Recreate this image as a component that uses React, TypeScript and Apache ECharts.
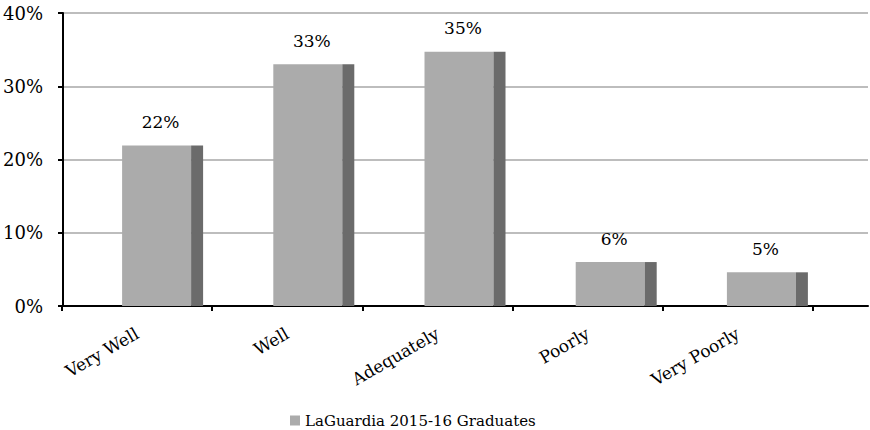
import React, { useEffect, useRef } from "react";
import * as echarts from "echarts";

const categories = ["Very Well", "Well", "Adequately", "Poorly", "Very Poorly"];
const values = [0.219, 0.33, 0.347, 0.06, 0.046];
const seriesName = "LaGuardia 2015-16 Graduates";
const yTicks = [0, 0.1, 0.2, 0.3, 0.4];

const FONT = "DejaVu Serif";

export default function App() {
  const ref = useRef<HTMLDivElement>(null);
  useEffect(() => {
    if (!ref.current) return;
    const chart = echarts.init(ref.current, undefined, { renderer: "svg" });
    const yMin = yTicks[0];
    const yMax = yTicks[yTicks.length - 1];
    const hiddenY = (gridIndex: number) => ({
      type: "value" as const,
      gridIndex,
      min: yMin,
      max: yMax,
      interval: 0.1,
      show: false,
      splitLine: { show: false },
    });
    chart.setOption({
      animation: false,
      backgroundColor: "#ffffff",
      textStyle: { fontFamily: FONT },
      legend: {
        data: [seriesName],
        left: 285,
        top: 408,
        icon: "rect",
        itemWidth: 10,
        itemHeight: 10,
        itemGap: 4,
        textStyle: { fontFamily: FONT, fontSize: 15, color: "#000" },
      },
      grid: [
        { left: 62, right: 2, top: 13, bottom: 124 },
        { left: 62, width: 751, top: 13, bottom: 124 },
        { left: 87, width: 756, top: 13, bottom: 124 },
      ],
      xAxis: [
        {
          type: "value",
          gridIndex: 0,
          min: 0,
          max: 1,
          axisLine: { show: true, lineStyle: { color: "#000", width: 2 } },
          axisTick: { show: false },
          axisLabel: { show: false },
          splitLine: { show: false },
        },
        {
          type: "category",
          gridIndex: 1,
          data: categories,
          axisLine: { show: false },
          axisTick: { show: true, length: 5, lineStyle: { color: "#000", width: 2 } },
          axisLabel: {
            rotate: 30,
            margin: 26,
            fontFamily: FONT,
            fontSize: 17,
            color: "#000",
            interval: 0,
          },
        },
        {
          type: "category",
          gridIndex: 2,
          data: categories,
          show: false,
        },
      ],
      yAxis: [
        {
          type: "value",
          gridIndex: 0,
          min: yMin,
          max: yMax,
          interval: 0.1,
          axisLine: { show: true, lineStyle: { color: "#000", width: 2 } },
          axisTick: { show: true, length: 5, lineStyle: { color: "#000", width: 2 } },
          axisLabel: {
            margin: 20,
            fontFamily: FONT,
            fontSize: 18,
            color: "#000",
            formatter: (v: number) => Math.round(v * 100) + "%",
          },
          splitLine: { show: true, lineStyle: { color: "#bdbdbd", width: 2 } },
        },
        hiddenY(1),
        hiddenY(2),
      ],
      series: [
        {
          name: seriesName,
          type: "bar",
          xAxisIndex: 2,
          yAxisIndex: 2,
          data: values,
          barWidth: 69,
          barGap: "0%",
          itemStyle: { color: "#ababab" },
          label: {
            show: true,
            position: "top",
            distance: 15,
            offset: [4, 0],
            fontFamily: FONT,
            fontSize: 17,
            color: "#000",
            formatter: (p: any) => Math.round(p.value * 100) + "%",
          },
        },
        {
          name: "side",
          type: "bar",
          xAxisIndex: 2,
          yAxisIndex: 2,
          data: values,
          barWidth: 12,
          barGap: "0%",
          itemStyle: { color: "#6b6b6b" },
        },
      ],
    });
    return () => chart.dispose();
  }, []);
  return <div ref={ref} style={{ width: 870, height: 430, position: "absolute", left: 0, top: 0 }} />;
}
